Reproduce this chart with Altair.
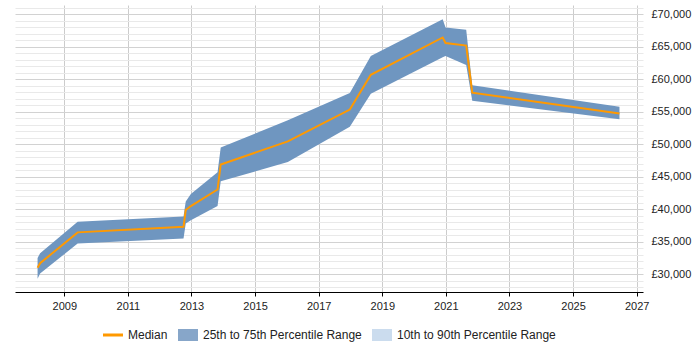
import altair as alt
import pandas as pd

# ---- data ----
years = [2008.16, 2008.24, 2009.42, 2012.75, 2012.82, 2012.98, 2013.82, 2013.92,
         2016.03, 2017.98, 2018.64, 2020.90, 2020.99, 2021.64, 2021.83, 2026.46]
median = [31000, 31700, 36450, 37300, 39900, 40500, 43050, 46900,
          50450, 55350, 60700, 66450, 65600, 65200, 57950, 54750]
p25 = [29300, 30100, 34750, 35500, 37800, 38300, 40500, 44300,
       47300, 52700, 57800, 63400, 63600, 62200, 56700, 53850]
p75 = [32500, 33250, 38100, 38900, 41200, 42350, 45700, 49500,
       53700, 57900, 63600, 69250, 68000, 67650, 59100, 55800]

series_names = ["Median", "25th to 75th Percentile Range", "10th to 90th Percentile Range"]
series_colors = ["#ff9900", "#87a6c9", "#cbdcee"]
legend_shapes = ["M-1,-0.15H1V0.15H-1Z", "M-1,-0.6H1V0.6H-1Z", "M-1,-0.6H1V0.6H-1Z"]

x_ticks = [2009, 2011, 2013, 2015, 2017, 2019, 2021, 2023, 2025, 2027]
y_grid = list(range(28000, 71001, 1000))

df = pd.DataFrame({"year": years, "median": median, "p25": p25, "p75": p75})
legend_df = pd.DataFrame({"series": series_names, "year": [2000] * 3, "v": [50000] * 3})

FONT = "Liberation Sans"

x_scale = alt.Scale(domain=[2007.45, 2027.2], nice=False, zero=False)
y_scale = alt.Scale(domain=[27270, 71450], nice=False, zero=False)

x_axis = alt.Axis(values=x_ticks, format="d", title=None, grid=True, tickCount=50,
                  gridColor="#cccccc", domainColor="#000000", tickColor="#000000",
                  tickSize=4, labelPadding=4, labelFont=FONT, labelFontSize=11,
                  labelColor="#222222", labelFlush=False, labelOverlap=False)
y_axis = alt.Axis(values=y_grid, tickCount=200, orient="right", title=None, grid=True,
                  gridColor={"condition": {"test": "datum.value % 5000 === 0", "value": "#d2d2d2"},
                             "value": "#e9e9e9"},
                  ticks=False, tickSize=0, domain=False, labelPadding=8, labelOverlap=False,
                  labelExpr="datum.value % 5000 === 0 ? '£' + format(datum.value, ',') : ''",
                  labelFont=FONT, labelFontSize=11, labelColor="#222222")

base = alt.Chart(df)

band = base.mark_area(color="#6f96c0", opacity=1).encode(
    x=alt.X("year:Q", scale=x_scale, axis=x_axis),
    y=alt.Y("p25:Q", scale=y_scale, axis=y_axis),
    y2="p75:Q",
)

line = base.mark_line(color="#ff9900", strokeWidth=2).encode(
    x=alt.X("year:Q", scale=x_scale, axis=x_axis),
    y=alt.Y("median:Q", scale=y_scale, axis=y_axis),
)

legend_layer = alt.Chart(legend_df).mark_point(filled=True, clip=True, opacity=1).encode(
    x=alt.X("year:Q", scale=x_scale, axis=x_axis),
    y=alt.Y("v:Q", scale=y_scale, axis=y_axis),
    fill=alt.Fill("series:N",
                  scale=alt.Scale(domain=series_names, range=series_colors),
                  legend=alt.Legend(orient="none", legendX=88, legendY=320,
                                    direction="horizontal", title=None,
                                    symbolSize=400, symbolStrokeWidth=0,
                                    labelOffset=5, columnPadding=10, padding=0,
                                    labelFont=FONT, labelFontSize=12,
                                    labelColor="#222222")),
    shape=alt.Shape("series:N",
                    scale=alt.Scale(domain=series_names, range=legend_shapes),
                    legend=alt.Legend(orient="none", legendX=88, legendY=320,
                                      direction="horizontal", title=None)),
)

chart = alt.layer(band, line, legend_layer).properties(
    width=628, height=287,
    padding={"left": 15, "top": 5, "right": 57, "bottom": 58},
    autosize=alt.AutoSizeParams(type="none"),
    background="white",
).configure_view(stroke=None)

chart.save("out.html", embed_options={"renderer": "svg", "actions": False})
